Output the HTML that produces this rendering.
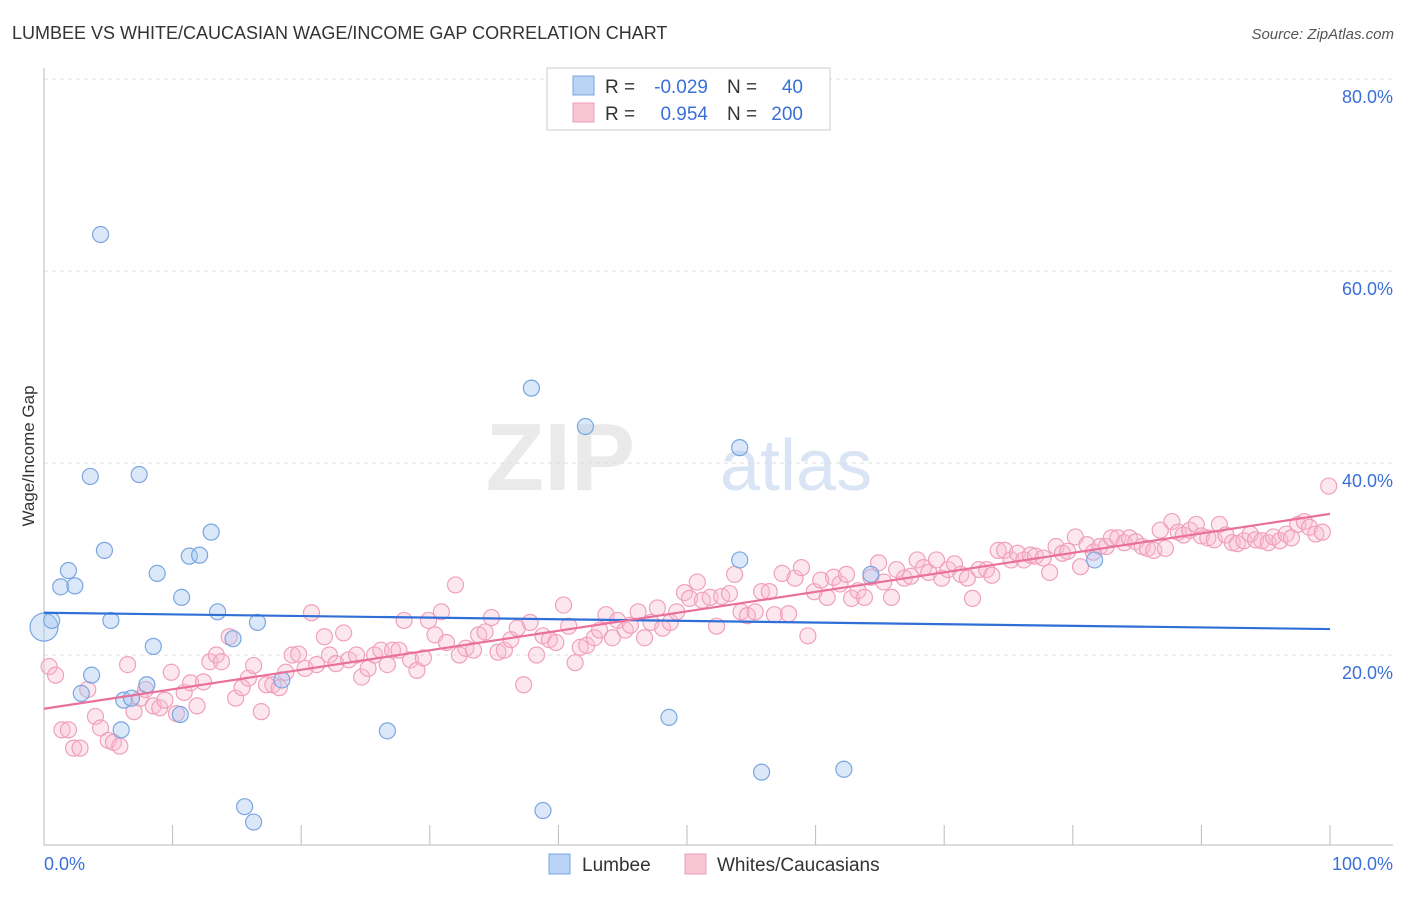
<!DOCTYPE html>
<html><head><meta charset="utf-8">
<style>
body{margin:0;background:#fff;font-family:"Liberation Sans",sans-serif;}
svg text{font-family:"Liberation Sans",sans-serif;}
</style></head>
<body>
<svg id="chart" width="1406" height="892" xmlns="http://www.w3.org/2000/svg">
<text x="12" y="39" font-size="18" fill="#333">LUMBEE VS WHITE/CAUCASIAN WAGE/INCOME GAP CORRELATION CHART</text>
<text x="1394" y="39" font-size="15" fill="#555" text-anchor="end" font-style="italic">Source: ZipAtlas.com</text>
<g>
<text x="635" y="490" font-size="96" fill="#ddd" text-anchor="end" font-family="Liberation Serif" font-weight="bold" opacity="0.6">ZIP</text>
<text x="720" y="490" font-size="72" fill="#c9d9f2" opacity="0.7">atlas</text>
</g>
<g id="grid"></g>
<g id="axes"></g>
<g id="marks"></g>
<text transform="translate(34,456) rotate(-90)" font-size="17" fill="#333" text-anchor="middle">Wage/Income Gap</text>
<g>
<rect x="547" y="68" width="283" height="62" fill="#fff" stroke="#ccc"/>
<rect x="573" y="76" width="21" height="19" fill="#b9d3f5" stroke="#7aa6e0"/>
<rect x="573" y="103" width="21" height="19" fill="#f9c4d4" stroke="#ee9bb6"/>
<text x="605" y="93" font-size="19" fill="#333">R =</text>
<text x="708" y="93" font-size="19" fill="#3a6fd8" text-anchor="end">-0.029</text>
<text x="727" y="93" font-size="19" fill="#333">N =</text>
<text x="803" y="93" font-size="19" fill="#3a6fd8" text-anchor="end">40</text>
<text x="605" y="120" font-size="19" fill="#333">R =</text>
<text x="708" y="120" font-size="19" fill="#3a6fd8" text-anchor="end">0.954</text>
<text x="727" y="120" font-size="19" fill="#333">N =</text>
<text x="803" y="120" font-size="19" fill="#3a6fd8" text-anchor="end">200</text>
</g>
<g>
<rect x="549" y="854" width="21" height="20" fill="#b9d3f5" stroke="#7aa6e0"/>
<text x="582" y="871" font-size="19" fill="#333">Lumbee</text>
<rect x="685" y="854" width="21" height="20" fill="#f9c4d4" stroke="#ee9bb6"/>
<text x="717" y="871" font-size="19" fill="#333">Whites/Caucasians</text>
</g>
</svg>
<script>
const yTicks=[20,40,60,80];
const yTickLabels=["20.0%","40.0%","60.0%","80.0%"];
const xTicks=[0,10,20,30,40,50,60,70,80,90,100];
const blueX=[0,0.6,4.4,3.6,7.4,4.7,1.9,1.3,2.4,5.2,8.8,10.7,11.3,12.1,13.0,13.5,14.7,16.6,8.5,3.7,2.9,6.2,6.8,8.0,10.6,6.0,18.5,15.6,16.3,26.7,37.9,42.1,54.1,54.1,48.6,55.8,62.2,38.8,64.3,81.7];
const blueY=[22.9,23.6,63.8,38.6,38.8,30.9,28.8,27.1,27.2,23.6,28.5,26.0,30.3,30.4,32.8,24.5,21.7,23.4,20.9,17.9,16.0,15.3,15.5,16.9,13.8,12.2,17.4,4.2,2.6,12.1,47.8,43.8,41.6,29.9,13.5,7.8,8.1,3.8,28.4,29.9];
const pinkX=[0.4,0.9,1.4,1.9,2.3,2.8,3.4,4.0,4.4,5.0,5.4,5.9,6.5,7.0,7.5,7.9,8.5,9.0,9.4,9.9,10.3,10.9,11.4,11.9,12.4,12.9,13.4,13.8,14.4,14.9,15.4,15.9,16.3,16.9,17.3,17.8,18.3,18.8,19.3,19.8,20.3,20.8,21.2,21.8,22.2,22.7,23.3,23.7,24.3,24.7,25.2,25.7,26.2,26.7,27.1,27.6,28.0,28.5,29.0,29.5,29.9,30.4,30.9,31.3,32.0,32.3,32.8,33.4,33.8,34.3,34.8,35.3,35.8,36.3,36.8,37.3,37.8,38.3,38.8,39.3,39.8,40.4,40.8,41.3,41.7,42.2,42.8,43.2,43.7,44.2,44.6,45.2,45.6,46.2,46.7,47.2,47.7,48.1,48.7,49.2,49.8,50.2,50.8,51.2,51.8,52.3,52.7,53.3,53.7,54.2,54.7,55.3,55.8,56.4,56.8,57.4,57.9,58.4,58.9,59.4,59.9,60.4,60.9,61.4,61.9,62.4,62.8,63.3,63.8,64.3,64.9,65.3,65.9,66.3,66.9,67.4,67.9,68.4,68.8,69.4,69.8,70.3,70.8,71.3,71.8,72.2,72.7,73.3,73.7,74.2,74.7,75.2,75.7,76.2,76.7,77.1,77.7,78.2,78.7,79.2,79.6,80.2,80.6,81.1,81.6,82.1,82.6,83.0,83.5,84.0,84.4,84.9,85.4,85.8,86.3,86.8,87.2,87.7,88.2,88.6,89.1,89.6,90.0,90.5,91.0,91.4,91.9,92.4,92.8,93.3,93.8,94.2,94.7,95.2,95.6,96.1,96.6,97.0,97.5,98.0,98.4,98.9,99.4,99.9];
const pinkY=[18.8,17.9,12.2,12.2,10.3,10.3,16.4,13.6,12.4,11.1,10.9,10.5,19.0,14.1,15.5,16.4,14.7,14.5,15.3,18.2,13.9,16.1,17.1,14.7,17.2,19.3,20.0,19.3,21.9,15.5,16.6,17.6,18.9,14.1,16.9,16.9,16.6,18.2,20.0,20.1,18.6,24.4,19.0,21.9,20.0,19.1,22.3,19.5,20.0,17.7,18.6,20.0,20.5,19.0,20.5,20.5,23.6,19.5,18.4,19.7,23.6,22.1,24.5,21.3,27.3,20.0,20.7,20.5,22.1,22.4,23.9,20.3,20.5,21.6,22.8,16.9,23.4,20.0,22.0,21.6,21.3,25.2,23.0,19.2,20.8,21.0,21.8,22.6,24.2,21.8,23.6,22.6,23.1,24.5,21.8,23.4,24.9,22.8,23.4,24.5,26.5,25.9,27.6,25.7,26.0,23.0,26.1,26.4,28.4,24.5,24.1,24.5,26.6,26.6,24.2,28.5,24.3,28.0,29.1,22.0,26.6,27.8,26.0,28.1,27.4,28.4,25.9,26.7,26.0,28.1,29.6,27.6,26.0,28.9,28.0,28.2,29.9,29.1,28.6,29.9,28.0,28.9,29.5,28.4,28.0,25.9,28.9,28.9,28.3,30.9,30.9,29.9,30.6,29.9,30.4,30.3,30.1,28.6,31.3,30.6,30.8,32.3,29.2,31.5,30.7,31.3,31.3,32.2,32.2,31.7,32.2,31.8,31.3,31.1,30.9,33.0,31.1,33.9,32.8,32.5,33.0,33.6,32.4,32.2,32.0,33.6,32.5,31.7,31.6,31.9,32.6,32.0,31.9,31.7,32.3,31.9,32.6,32.2,33.6,33.9,33.3,32.6,32.8,37.6];
const trendX=[0,100];
const blueTrend=[24.4,22.7];
const pinkTrend=[14.4,34.7];

const NS="http://www.w3.org/2000/svg";
const X0=44,X1=1330,Y0=847,PX=9.6;
function sx(v){return X0+(X1-X0)*v/100;}
function sy(v){return Y0-v*PX;}
function mk(tag,attrs,parent){const e=document.createElementNS(NS,tag);for(const k in attrs)e.setAttribute(k,attrs[k]);parent.appendChild(e);return e;}
const grid=document.getElementById('grid'),axes=document.getElementById('axes'),marks=document.getElementById('marks');
yTicks.forEach((t,i)=>{
 const l=mk('line',{x1:X0,x2:1393,y1:sy(t),y2:sy(t),stroke:'#ddd','stroke-dasharray':'4,4'},grid);
 
 
 const tx=mk('text',{x:1393,y:sy(t)+24,'font-size':18,fill:'#3a6fd8','text-anchor':'end'},axes);
 tx.textContent=yTickLabels[i];
 
 
});
const ya=mk('line',{x1:X0,x2:X0,y1:68,y2:845,stroke:'#bbb'},axes);


const xa=mk('line',{x1:X0,x2:1393,y1:845,y2:845,stroke:'#bbb'},axes);


xTicks.forEach(t=>{
 const l=mk('line',{x1:sx(t),x2:sx(t),y1:825,y2:845,stroke:'#bbb'},axes);
 
 
});
const xl0=mk('text',{x:44,y:870,'font-size':18,fill:'#3a6fd8'},axes);xl0.textContent='0.0%';


const xl1=mk('text',{x:1393,y:870,'font-size':18,fill:'#3a6fd8','text-anchor':'end'},axes);xl1.textContent='100.0%';



pinkX.forEach((x,i)=>{
 const c=mk('circle',{cx:sx(x),cy:sy(pinkY[i]),r:8,fill:'rgba(248,187,208,0.35)',stroke:'#f0a0bb','stroke-width':1.2},marks);
 
 
});
blueX.forEach((x,i)=>{
 const c=mk('circle',{cx:sx(x),cy:sy(blueY[i]),r:i===0?14:8,fill:'rgba(165,198,240,0.4)',stroke:'#7aa6e0','stroke-width':1.2},marks);
 
 
});
const bt=mk('line',{x1:sx(trendX[0]),x2:sx(trendX[1]),y1:sy(blueTrend[0]),y2:sy(blueTrend[1]),stroke:'#2f6fd6','stroke-width':2.2},marks);


const pt=mk('line',{x1:sx(trendX[0]),x2:sx(trendX[1]),y1:sy(pinkTrend[0]),y2:sy(pinkTrend[1]),stroke:'#e8709a','stroke-width':2.2},marks);


</script>
</body></html>
